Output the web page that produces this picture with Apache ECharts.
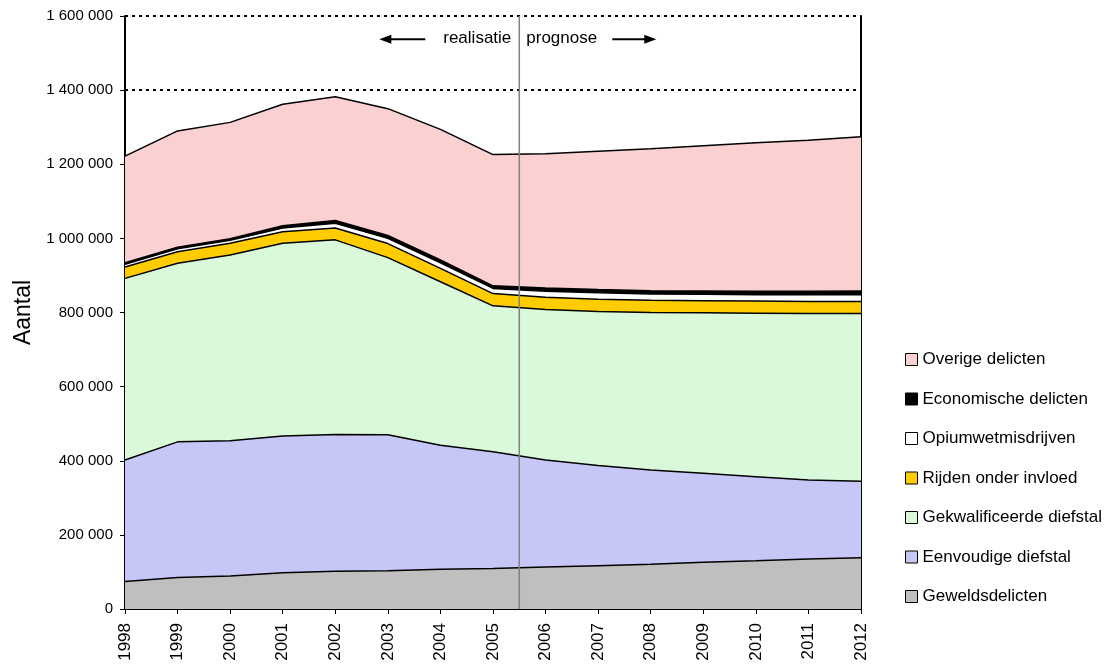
<!DOCTYPE html>
<html style="height: 100%">
<head>
    <meta charset="utf-8">
    <script src="https://cdn.jsdelivr.net/npm/echarts@6/dist/echarts.min.js"></script>
    <title>Misdrijven realisatie en prognose</title>
</head>
<body style="height: 100%; margin: 0; background: #fff">
    <div id="container" style="width: 1116px; height: 667px"></div>
    <script type="text/javascript">

        // years on the x axis
        let years = ['1998', '1999', '2000', '2001', '2002', '2003', '2004', '2005', '2006', '2007', '2008', '2009', '2010', '2011', '2012'];

        // series values, bottom of the stack first
        let geweldsdelicten = [74000, 85000, 89000, 98000, 102000, 103000, 107000, 109000, 113000, 117000, 121000, 126000, 130000, 135000, 138000];
        let eenvoudigeDiefstal = [328000, 366000, 365000, 369000, 369000, 367000, 335000, 315000, 289000, 270000, 254000, 240000, 227000, 213000, 207000];
        let gekwalificeerdeDiefstal = [490000, 482000, 501000, 520000, 525000, 478000, 441000, 394000, 406000, 416000, 425000, 433000, 441000, 449000, 452000];
        let rijdenOnderInvloed = [31000, 31000, 32000, 31000, 32000, 38000, 36000, 33000, 33000, 33000, 33000, 33000, 33000, 33000, 33000];
        let opiumwetmisdrijven = [7000, 8000, 8000, 10000, 13000, 14000, 15000, 14000, 16000, 17000, 17000, 17000, 17000, 18000, 18000];
        let economischeDelicten = [4000, 4000, 4000, 6000, 7000, 8000, 8000, 7000, 9000, 9000, 9000, 9000, 9000, 9000, 10000];
        let overigeDelicten = [288000, 314000, 314000, 328000, 334000, 342000, 352000, 354000, 362000, 373000, 383000, 392000, 401000, 408000, 416000];

        let seriesNames = ['Geweldsdelicten', 'Eenvoudige diefstal', 'Gekwalificeerde diefstal',
            'Rijden onder invloed', 'Opiumwetmisdrijven', 'Economische delicten', 'Overige delicten'];
        let seriesValues = [geweldsdelicten, eenvoudigeDiefstal, gekwalificeerdeDiefstal,
            rijdenOnderInvloed, opiumwetmisdrijven, economischeDelicten, overigeDelicten];
        let fillColors = ['#bfbfbf', '#c6c6f7', '#daf8da', '#ffcc00', '#ffffff', '#000000', '#fad0d0'];

        // y axis tick values
        let yMin = 0, yMax = 1600000, yStep = 200000;
        // boundary realisatie / prognose (between 2005 and 2006)
        let splitLine = [[2005.5, yMin], [2005.5, yMax]];

        const font = "'Liberation Sans', Arial, sans-serif";

        function spaced(v) {
            return String(v).replace(/\B(?=(\d{3})+(?!\d))/g, ' ');
        }

        let series = seriesNames.map((name, i) => ({
            name: name,
            type: 'line',
            stack: 'totaal',
            symbol: 'none',
            data: seriesValues[i],
            lineStyle: { color: '#000', width: 1.5 },
            itemStyle: { color: fillColors[i] },
            areaStyle: { color: fillColors[i], opacity: 1 }
        }));

        // vertical split line on a hidden numeric x axis
        series.push({
            name: 'split',
            type: 'line',
            xAxisIndex: 1,
            symbol: 'none',
            silent: true,
            z: 5,
            data: splitLine,
            lineStyle: { color: '#808080', width: 1.5 }
        });

        let dom = document.getElementById("container");
        let chart = echarts.init(dom);
        chart.setOption({
            animation: false,
            textStyle: { fontFamily: font },
            grid: { left: 125, right: 255, top: 16, bottom: 58, containLabel: false, outerBoundsMode: 'none' },
            legend: {
                orient: 'vertical',
                left: 900,
                top: 346,
                itemWidth: 12,
                itemHeight: 12,
                itemGap: 22.5,
                selectedMode: false,
                icon: 'rect',
                itemStyle: { borderColor: '#000', borderWidth: 1 },
                textStyle: { fontFamily: font, fontSize: 17, color: '#000' },
                data: seriesNames.slice().reverse()
            },
            xAxis: [{
                type: 'category',
                data: years,
                boundaryGap: false,
                axisLine: { show: true, onZero: false, lineStyle: { color: '#000', width: 2 } },
                axisTick: { show: true, length: 5, alignWithLabel: true, lineStyle: { color: '#000', width: 1 } },
                axisLabel: { rotate: 90, margin: 14, color: '#000', fontSize: 17, fontFamily: font, interval: 0 },
                splitLine: { show: false }
            }, {
                type: 'value',
                min: 1998,
                max: 2012,
                show: false
            }],
            yAxis: [{
                type: 'value',
                min: yMin,
                max: yMax,
                interval: yStep,
                name: 'Aantal',
                nameLocation: 'middle',
                nameRotate: 90,
                nameGap: 89,
                nameTextStyle: { fontSize: 23, color: '#000', fontFamily: font },
                axisLine: { show: true, lineStyle: { color: '#000', width: 2 } },
                axisTick: { show: true, length: 5, lineStyle: { color: '#000', width: 1 } },
                axisLabel: { margin: 12, color: '#000', fontSize: 15, fontFamily: font, formatter: spaced },
                splitLine: { show: true, lineStyle: { color: '#000', width: 2, type: [3, 4] } }
            }, {
                type: 'value',
                position: 'right',
                min: yMin,
                max: yMax,
                interval: yStep,
                axisLine: { show: true, lineStyle: { color: '#000', width: 2 } },
                axisTick: { show: false },
                axisLabel: { show: false },
                splitLine: { show: false }
            }],
            series: series
        });

        // annotation: arrows and labels around the split line
        let p = chart.convertToPixel({ xAxisIndex: 1, yAxisIndex: 0 }, [2005.5, 1540000]);
        let sx = p[0], sy = p[1];
        chart.setOption({
            graphic: [
                { type: 'text', x: sx - 8, y: sy, style: { text: 'realisatie', font: '17px ' + font, fill: '#000', align: 'right', verticalAlign: 'middle' } },
                { type: 'text', x: sx + 7, y: sy, style: { text: 'prognose', font: '17px ' + font, fill: '#000', align: 'left', verticalAlign: 'middle' } },
                { type: 'line', shape: { x1: sx - 131, y1: sy + 1, x2: sx - 94, y2: sy + 1 }, style: { stroke: '#000', lineWidth: 2 } },
                { type: 'polygon', shape: { points: [[sx - 140, sy + 1], [sx - 128, sy - 3.5], [sx - 128, sy + 5.5]] }, style: { fill: '#000' } },
                { type: 'line', shape: { x1: sx + 93, y1: sy + 1, x2: sx + 128, y2: sy + 1 }, style: { stroke: '#000', lineWidth: 2 } },
                { type: 'polygon', shape: { points: [[sx + 137, sy + 1], [sx + 125, sy - 3.5], [sx + 125, sy + 5.5]] }, style: { fill: '#000' } }
            ]
        });

    </script>
</body>
</html>
